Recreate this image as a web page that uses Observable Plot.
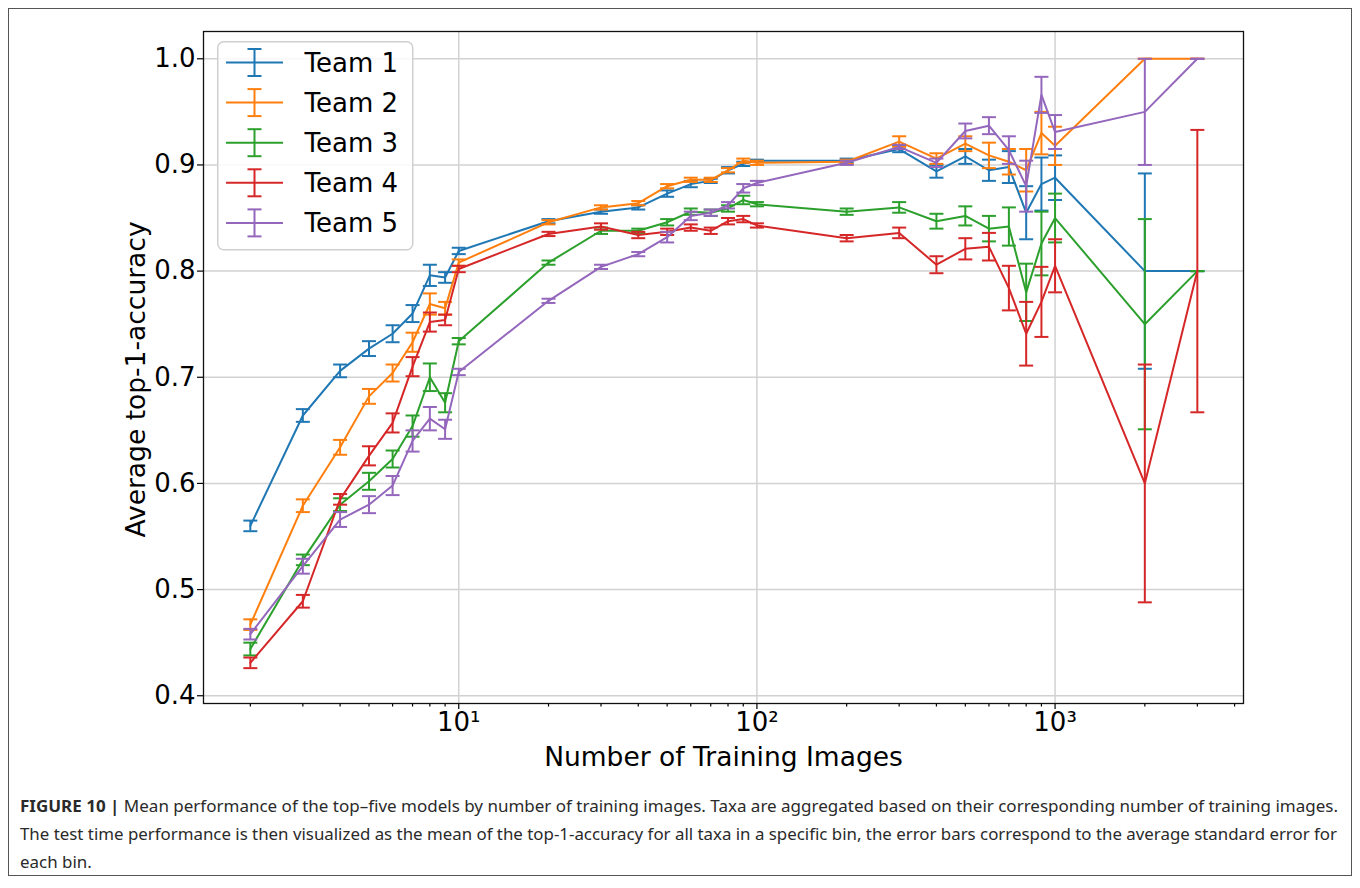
<!DOCTYPE html>
<html>
<head>
<meta charset="utf-8">
<script src="https://cdn.jsdelivr.net/npm/d3@7"></script>
<script src="https://cdn.jsdelivr.net/npm/@observablehq/plot@0.6"></script>
<style>
  body { margin:0; background:#fff; width:1360px; height:888px; position:relative; overflow:hidden; }
  #frame { position:absolute; left:8px; top:8px; width:1344px; height:868px; border:1px solid #555; box-sizing:border-box; }
  #chart { position:absolute; left:0; top:0; }
  #legend { position:absolute; left:217px; top:41px; }
  #caption { position:absolute; left:20px; top:792px; font-family:"Noto Sans", sans-serif; font-size:16.5px; color:#2a2a2a; }
  #caption .ln { display:block; height:28px; line-height:28px; white-space:nowrap; }
  #caption .ln span.t { display:inline-block; transform-origin:0 50%; }
  #caption b { font-weight:700; }
</style>
</head>
<body>
<div id="frame"></div>
<div id="chart"></div>
<svg id="legend" width="197" height="210"></svg>
<div id="caption"></div>
<script>
// ---- data -------------------------------------------------------------
const xValues = [2,3,4,5,6,7,8,9,10,20,30,40,50,60,70,80,90,100,200,300,400,500,600,700,800,900,1000,2000,3000];

const team1 = [0.560,0.664,0.706,0.727,0.741,0.760,0.796,0.794,0.819,0.847,0.856,0.860,0.873,0.882,0.885,0.895,0.901,0.904,0.904,0.915,0.894,0.908,0.895,0.898,0.855,0.882,0.888,0.800,0.800];
const err1  = [0.005,0.006,0.006,0.007,0.008,0.008,0.010,0.005,0.003,0.002,0.002,0.002,0.003,0.003,0.002,0.003,0.002,0.001,0.002,0.003,0.006,0.007,0.010,0.015,0.025,0.025,0.021,0.092,0];

const team2 = [0.467,0.579,0.634,0.682,0.704,0.733,0.769,0.765,0.808,0.846,0.860,0.864,0.880,0.886,0.886,0.895,0.904,0.902,0.903,0.922,0.906,0.920,0.909,0.903,0.895,0.930,0.918,1.000,1.000];
const err2  = [0.005,0.006,0.007,0.007,0.008,0.009,0.010,0.006,0.003,0.002,0.002,0.002,0.002,0.002,0.002,0.002,0.002,0.002,0.002,0.005,0.005,0.007,0.012,0.012,0.020,0.020,0.018,0,0];

const team3 = [0.444,0.528,0.580,0.602,0.623,0.654,0.700,0.676,0.734,0.808,0.838,0.838,0.846,0.856,0.855,0.859,0.867,0.863,0.856,0.860,0.847,0.852,0.840,0.842,0.780,0.826,0.850,0.750,0.800];
const err3  = [0.006,0.005,0.006,0.008,0.008,0.010,0.013,0.009,0.003,0.002,0.003,0.002,0.003,0.003,0.003,0.003,0.004,0.002,0.003,0.005,0.007,0.009,0.012,0.018,0.027,0.030,0.023,0.099,0];

const team4 = [0.431,0.489,0.585,0.626,0.657,0.710,0.752,0.754,0.802,0.835,0.842,0.834,0.837,0.841,0.838,0.847,0.849,0.843,0.831,0.836,0.806,0.821,0.823,0.784,0.741,0.771,0.805,0.600,0.800];
const err4  = [0.005,0.006,0.005,0.009,0.009,0.009,0.009,0.005,0.003,0.002,0.003,0.003,0.003,0.003,0.003,0.003,0.003,0.002,0.003,0.005,0.008,0.010,0.013,0.021,0.030,0.033,0.025,0.112,0.133];

const team5 = [0.458,0.522,0.566,0.580,0.598,0.640,0.661,0.651,0.705,0.772,0.804,0.816,0.832,0.852,0.855,0.862,0.878,0.883,0.902,0.917,0.902,0.932,0.937,0.914,0.880,0.966,0.931,0.950,1.000];
const err5  = [0.005,0.007,0.007,0.008,0.009,0.010,0.011,0.009,0.003,0.002,0.002,0.002,0.005,0.004,0.003,0.003,0.004,0.002,0.002,0.002,0.004,0.007,0.008,0.013,0.024,0.017,0.016,0.050,0];

const teamNames  = ["Team 1","Team 2","Team 3","Team 4","Team 5"];
const teamColors = ["#1f77b4","#ff7f0e","#2ca02c","#d62728","#9467bd"];

const yTicks = [0.4,0.5,0.6,0.7,0.8,0.9,1.0];
const xMajorTicks = [10,100,1000];
const xMajorLabels = ["10\u00b9","10\u00b2","10\u00b3"];
const xMinorTicks = [2,3,4,5,6,7,8,9,20,30,40,50,60,70,80,90,200,300,400,500,600,700,800,900,2000,3000,4000];

const xLabel = "Number of Training Images";
const yLabel = "Average top-1-accuracy";

const captionLines = [
  ["FIGURE 10 |", " Mean performance of the top\u2013five models by number of training images. Taxa are aggregated based on their corresponding number of training images."],
  ["", "The test time performance is then visualized as the mean of the top-1-accuracy for all taxa in a specific bin, the error bars correspond to the average standard error for"],
  ["", "each bin."]
];

// ---- build -------------------------------------------------------------
const means = [team1,team2,team3,team4,team5];
const errs  = [err1,err2,err3,err4,err5];
const series = means.map((m,i) => xValues.map((x,j) => ({x, y:m[j], e:errs[i][j], team:teamNames[i]})));

const capSymbol = {
  draw(ctx, size) {
    const r = Math.sqrt(size/Math.PI);
    ctx.moveTo(-r, 0); ctx.lineTo(r, 0);
  }
};

const dataMarks = [];
series.forEach((rows, i) => {
  const c = teamColors[i];
  dataMarks.push(
    Plot.line(rows, {x:"x", y:"y", stroke:c, strokeWidth:2}),
    Plot.ruleX(rows, {x:"x", y1:d => d.y - d.e, y2:d => d.y + d.e, stroke:c, strokeWidth:2}),
    Plot.dot(rows, {x:"x", y:d => d.y - d.e, symbol:capSymbol, r:7, stroke:c, strokeWidth:2, fill:"none"}),
    Plot.dot(rows, {x:"x", y:d => d.y + d.e, symbol:capSymbol, r:7, stroke:c, strokeWidth:2, fill:"none"})
  );
});

const majorLabel = d => xMajorLabels[xMajorTicks.indexOf(d)];

const chart = Plot.plot({
  width:1360, height:790,
  marginLeft:203, marginRight:117, marginTop:31, marginBottom:87,
  style:{fontFamily:"DejaVu Sans", fontSize:"26px", color:"#000", background:"transparent"},
  x:{type:"log", domain:[1.393, 4285]},
  y:{domain:[0.3927, 1.0257]},
  marks:[
    Plot.gridX(xMajorTicks, {stroke:"#d2d2d2", strokeOpacity:1, strokeWidth:1.5}),
    Plot.gridY(yTicks, {stroke:"#d2d2d2", strokeOpacity:1, strokeWidth:1.5}),
    Plot.axisX(xMinorTicks, {tickSize:3.5, text:null, label:null, strokeWidth:1.2}),
    Plot.axisX(xMajorTicks, {tickSize:6, tickPadding:3, tickFormat:majorLabel, label:null, strokeWidth:1.2, fontSize:26}),
    Plot.axisY(yTicks, {tickSize:6, tickPadding:2, tickFormat:d3.format(".1f"), label:null, strokeWidth:1.2, fontSize:26}),
    ...dataMarks,
    Plot.frame({stroke:"#111", strokeWidth:1.3}),
    Plot.text([xLabel], {text:d => d, frameAnchor:"bottom", textAnchor:"middle", dy:62, fontSize:26.5, fill:"#000"}),
    Plot.text([yLabel], {text:d => d, frameAnchor:"left", textAnchor:"middle", dx:-67, dy:12, rotate:-90, fontSize:26.5, fill:"#000"})
  ]
});
document.getElementById("chart").appendChild(chart);

// ---- legend -------------------------------------------------------------
const leg = d3.select("#legend");
leg.append("rect").attr("x",0.75).attr("y",0.75).attr("width",195).attr("height",208)
  .attr("rx",6).attr("fill","rgba(255,255,255,0.85)").attr("stroke","#d0d0d0").attr("stroke-width",1.5);
teamNames.forEach((name,i) => {
  const cy = 21.5 + 40.1*i, c = teamColors[i];
  const g = leg.append("g").attr("stroke",c).attr("stroke-width",2);
  g.append("line").attr("x1",9).attr("x2",66).attr("y1",cy).attr("y2",cy);
  g.append("line").attr("x1",37.5).attr("x2",37.5).attr("y1",cy-13.5).attr("y2",cy+13.5);
  g.append("line").attr("x1",30.5).attr("x2",44.5).attr("y1",cy-13.5).attr("y2",cy-13.5);
  g.append("line").attr("x1",30.5).attr("x2",44.5).attr("y1",cy+13.5).attr("y2",cy+13.5);
  leg.append("text").attr("x",87.5).attr("y",cy).attr("dy","0.36em")
    .attr("font-family","DejaVu Sans").attr("font-size",26).attr("fill","#000").text(name);
});

// ---- caption -------------------------------------------------------------
const cap = document.getElementById("caption");
captionLines.forEach(([b, t]) => {
  const ln = document.createElement("div"); ln.className = "ln";
  const sp = document.createElement("span"); sp.className = "t";
  if (b) { const bb = document.createElement("b"); bb.textContent = b; sp.appendChild(bb); }
  sp.appendChild(document.createTextNode(t));
  ln.appendChild(sp); cap.appendChild(ln);
});
const spans = cap.querySelectorAll("span.t");
const targets = [1318, 1317];
let s = 0;
targets.forEach((tw,i) => { const w = spans[i].getBoundingClientRect().width; const k = tw/w; s += k; spans[i].style.transform = `scaleX(${k})`; });
spans[2].style.transform = `scaleX(${s/2})`;
</script>
</body>
</html>
